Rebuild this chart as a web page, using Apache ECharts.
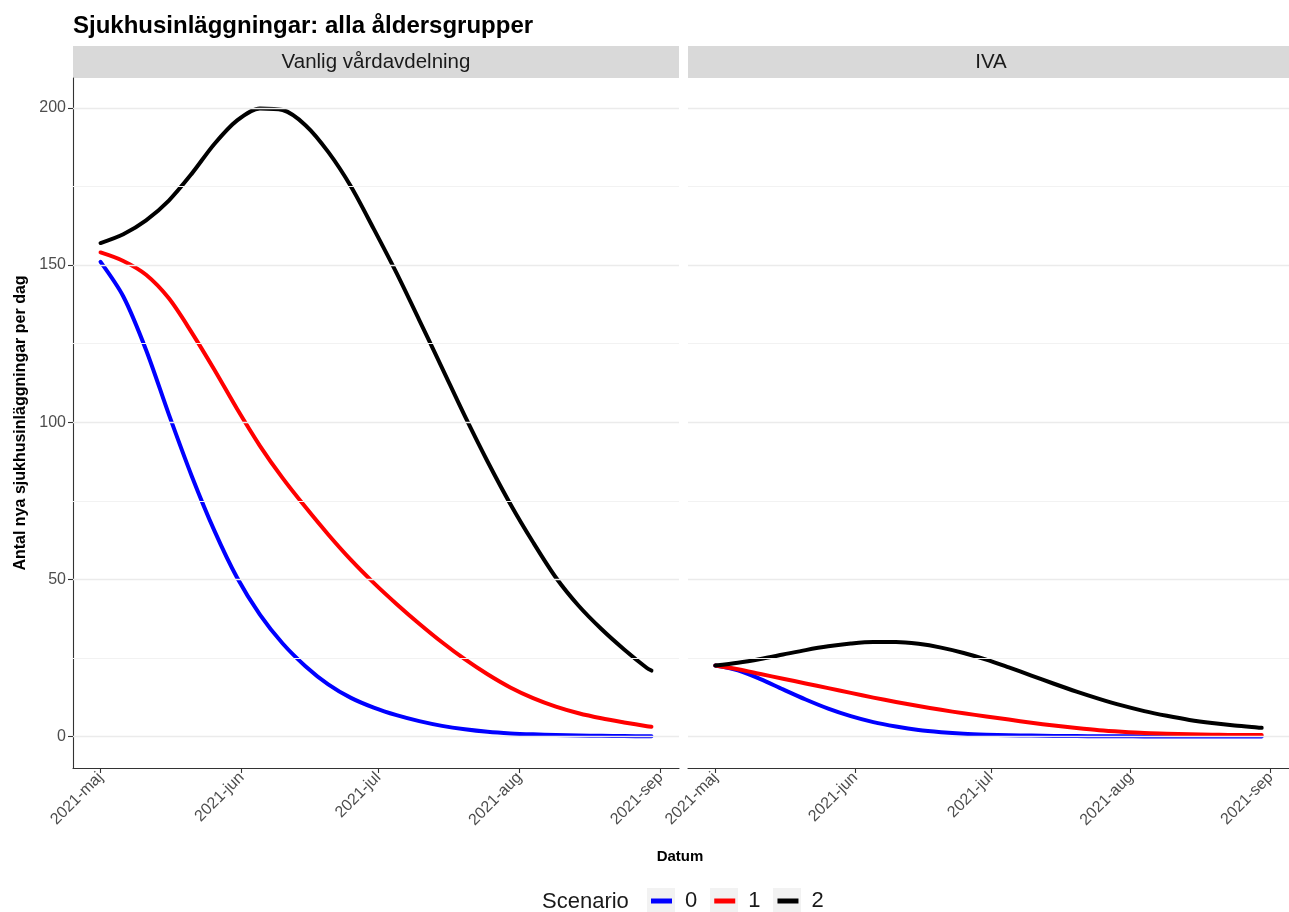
<!DOCTYPE html>
<html>
<head>
<meta charset="utf-8">
<script src="https://cdn.jsdelivr.net/npm/echarts@6/dist/echarts.min.js"></script>
<style>
html,body{margin:0;padding:0;background:#fff;}
#chart{width:1289px;height:912px;}
</style>
</head>
<body>
<div id="chart"></div>
<script>
// ---------- DATA ----------
const dates = ['2021-05-01','2021-05-06','2021-05-11','2021-05-16','2021-05-21','2021-05-26','2021-05-31',
  '2021-06-05','2021-06-10','2021-06-15','2021-06-20','2021-06-25','2021-06-30',
  '2021-07-05','2021-07-10','2021-07-15','2021-07-20','2021-07-25','2021-07-30',
  '2021-08-04','2021-08-09','2021-08-14','2021-08-19','2021-08-24','2021-08-29','2021-08-30'];

const scenarios = ['0', '1', '2'];
const panels = ['Vanlig vårdavdelning', 'IVA'];

// Vanlig vårdavdelning
const vanlig0 = [151, 140, 123, 102.5, 83, 65.5, 50.5, 38.8, 29.6, 22.4, 16.6, 12.3, 9.2, 6.8, 4.9, 3.4, 2.3, 1.5, 1.0, 0.7, 0.5, 0.35, 0.25, 0.15, 0.1, 0.1];
const vanlig1 = [154, 151.3, 146.9, 139.4, 128.6, 116.7, 104.2, 92.5, 82.2, 73, 64.3, 56.2, 48.9, 42.2, 35.9, 30.0, 24.6, 19.8, 15.6, 12.2, 9.5, 7.4, 5.8, 4.5, 3.3, 3.1];
const vanlig2 = [157, 159.8, 164.2, 170.5, 179, 188.5, 196, 199.8, 199.3, 194.5, 186, 175, 161.5, 147.5, 132.5, 117.3, 102, 87.5, 74, 61.8, 50.6, 41.6, 34.2, 27.7, 21.8, 21];

// IVA
const iva0 = [22.6, 21.1, 18.3, 15.0, 11.8, 8.9, 6.5, 4.6, 3.2, 2.1, 1.4, 0.9, 0.6, 0.4, 0.3, 0.2, 0.15, 0.1, 0.1, 0.05, 0.05, 0.05, 0.05, 0.05, 0.05, 0.05];
const iva1 = [22.6, 21.4, 19.9, 18.4, 16.9, 15.4, 13.9, 12.4, 11.0, 9.7, 8.5, 7.4, 6.4, 5.4, 4.4, 3.5, 2.7, 2.0, 1.5, 1.1, 0.9, 0.7, 0.6, 0.5, 0.5, 0.5];
const iva2 = [22.6, 23.5, 24.7, 26.1, 27.5, 28.7, 29.6, 30.1, 30.1, 29.5, 28.3, 26.6, 24.5, 22.0, 19.4, 16.8, 14.3, 12.0, 9.9, 8.1, 6.6, 5.3, 4.3, 3.5, 2.9, 2.8];

// Axis ticks
const xTickDates = ['2021-05-01','2021-06-01','2021-07-01','2021-08-01','2021-09-01'];
const xTickLabels = ['2021-maj','2021-jun','2021-jul','2021-aug','2021-sep'];
const yTickValues = [0, 50, 100, 150, 200];
const yMinorValues = [25, 75, 125, 175];

// ---------- BUILD ----------
const origin = Date.parse('2021-05-01');
const dayOf = s => Math.round((Date.parse(s) - origin) / 86400000);
const days = dates.map(dayOf);
const xTickDays = xTickDates.map(dayOf);
const pair = vals => vals.map((v, i) => [days[i], v]);

const colors = {'0': '#0000FF', '1': '#FF0000', '2': '#000000'};
const FONT = '"Liberation Sans", Arial, Helvetica, sans-serif';

const xMin = -6.05, xMax = 127.05;
const yMin = -10, yMax = 209.5;
const AXIS_COLOR = '#333333';

function xAxisFor(idx) {
  return {
    type: 'value', gridIndex: idx, min: xMin, max: xMax,
    splitLine: {show: false},
    axisLine: {show: true, onZero: false, lineStyle: {color: AXIS_COLOR, width: 1.1}},
    axisTick: {show: true, customValues: xTickDays, length: 5, lineStyle: {color: AXIS_COLOR, width: 1.1}},
    axisLabel: {
      show: true, customValues: xTickDays, rotate: 45, margin: 7,
      color: '#4D4D4D', fontSize: 16, fontFamily: FONT,
      formatter: v => { const k = xTickDays.indexOf(Math.round(v)); return k >= 0 ? xTickLabels[k] : ''; }
    }
  };
}

const gridLines = [];
yTickValues.forEach(v => gridLines.push({yAxis: v, lineStyle: {color: '#EBEBEB', width: 1.4, type: 'solid'}}));
yMinorValues.forEach(v => gridLines.push({yAxis: v, lineStyle: {color: '#F2F2F2', width: 1.2, type: 'solid'}}));

function gridSeries(idx) {
  return {
    type: 'line', name: 'grid' + idx, xAxisIndex: idx, yAxisIndex: idx, data: [], z: 0,
    silent: true,
    markLine: {silent: true, symbol: ['none', 'none'], label: {show: false}, animation: false, data: gridLines}
  };
}

function lineSeries(idx, name, vals) {
  return {
    type: 'line', name: name, xAxisIndex: idx, yAxisIndex: idx,
    data: pair(vals), smooth: 0.3, showSymbol: false, symbol: 'none',
    lineStyle: {color: colors[name], width: 4, cap: 'round', join: 'round'},
    itemStyle: {color: colors[name]}, z: 3
  };
}

const option = {
  animation: false,
  backgroundColor: '#FFFFFF',
  title: {
    text: 'Sjukhusinläggningar: alla åldersgrupper', left: 73, top: 14, padding: 0,
    textStyle: {fontSize: 24, fontWeight: 'bold', color: '#000000', fontFamily: FONT}
  },
  grid: [
    {left: 73, top: 78, width: 606, height: 690, containLabel: false},
    {left: 688, top: 78, width: 606, height: 690, containLabel: false}
  ],
  xAxis: [xAxisFor(0), xAxisFor(1)],
  yAxis: [
    {
      type: 'value', gridIndex: 0, min: yMin, max: yMax,
      splitLine: {show: false},
      axisLine: {show: true, onZero: false, lineStyle: {color: AXIS_COLOR, width: 1.1}},
      axisTick: {show: true, customValues: yTickValues, length: 5, lineStyle: {color: AXIS_COLOR, width: 1.1}},
      axisLabel: {show: true, customValues: yTickValues, margin: 7, color: '#4D4D4D', fontSize: 16, fontFamily: FONT},
      name: 'Antal nya sjukhusinläggningar per dag', nameLocation: 'middle', nameGap: 44,
      nameTextStyle: {fontSize: 16, fontWeight: 'bold', color: '#000000', fontFamily: FONT}
    },
    {type: 'value', gridIndex: 1, min: yMin, max: yMax, show: false, splitLine: {show: false},
     axisLine: {show: false, onZero: false}}
  ],
  legend: {
    data: scenarios, left: 651, top: 890, padding: 0,
    icon: 'rect', itemWidth: 21, itemHeight: 5, itemGap: 17,
    selectedMode: false,
    textStyle: {fontSize: 22, color: '#1A1A1A', fontFamily: FONT, padding: [0, 0, 0, 8]}
  },
  graphic: [
    {type: 'rect', z: 0, shape: {x: 73, y: 46, width: 606, height: 32}, style: {fill: '#D9D9D9'}},
    {type: 'rect', z: 0, shape: {x: 688, y: 46, width: 606, height: 32}, style: {fill: '#D9D9D9'}},
    {type: 'text', z: 1, x: 376, y: 62, style: {text: panels[0], font: '20.5px ' + FONT, fill: '#1A1A1A', align: 'center', verticalAlign: 'middle', textAlign: 'center', textVerticalAlign: 'middle'}},
    {type: 'text', z: 1, x: 991, y: 62, style: {text: panels[1], font: '20.5px ' + FONT, fill: '#1A1A1A', align: 'center', verticalAlign: 'middle', textAlign: 'center', textVerticalAlign: 'middle'}},
    {type: 'text', z: 1, x: 680, y: 857, style: {text: 'Datum', font: 'bold 15px ' + FONT, fill: '#000000', align: 'center', verticalAlign: 'middle', textAlign: 'center', textVerticalAlign: 'middle'}},
    {type: 'text', z: 1, x: 542, y: 902, style: {text: 'Scenario', font: '22px ' + FONT, fill: '#1A1A1A', align: 'left', verticalAlign: 'middle', textAlign: 'left', textVerticalAlign: 'middle'}},
    {type: 'rect', z: 0, shape: {x: 647, y: 888, width: 28, height: 28}, style: {fill: '#F2F2F2'}},
    {type: 'rect', z: 0, shape: {x: 710, y: 888, width: 28, height: 28}, style: {fill: '#F2F2F2'}},
    {type: 'rect', z: 0, shape: {x: 773, y: 888, width: 28, height: 28}, style: {fill: '#F2F2F2'}}
  ],
  series: [
    gridSeries(0), gridSeries(1),
    lineSeries(0, '0', vanlig0), lineSeries(0, '1', vanlig1), lineSeries(0, '2', vanlig2),
    lineSeries(1, '0', iva0), lineSeries(1, '1', iva1), lineSeries(1, '2', iva2)
  ]
};

const chart = echarts.init(document.getElementById('chart'), null, {renderer: 'canvas'});
chart.setOption(option);
</script>
</body>
</html>
